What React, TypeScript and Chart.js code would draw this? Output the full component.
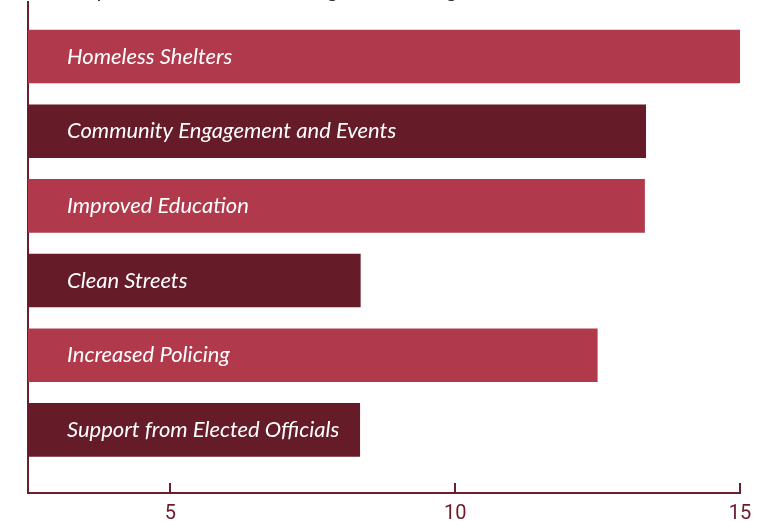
import React, { useEffect, useRef } from "react";
import { Chart, registerables } from "chart.js";

Chart.register(...registerables);

const CATEGORIES = [
  "Homeless Shelters",
  "Community Engagement and Events",
  "Improved Education",
  "Clean Streets",
  "Increased Policing",
  "Support from Elected Officials",
];
const VALUES = [15, 13.35, 13.33, 8.34, 12.5, 8.33];
const BAR_COLORS = ["#b03a4b", "#661b29", "#b03a4b", "#661b29", "#b03a4b", "#661b29"];
const X_TICKS = [5, 10, 15];
const X_MIN = 2.5;
const X_MAX = 15;
const CAPTION = "Proposed solutions to tackling urban change.";

const AXIS_COLOR = "#6b1f2e";
const LABEL_FONT = 'italic 22px Lato, "Open Sans", sans-serif';

const overlayPlugin = {
  id: "overlay",
  afterDatasetsDraw(chart: any) {
    const { ctx, chartArea } = chart;
    const meta = chart.getDatasetMeta(0);
    ctx.save();
    ctx.font = LABEL_FONT;
    ctx.fillStyle = "#ffffff";
    ctx.textAlign = "left";
    ctx.textBaseline = "middle";
    meta.data.forEach((bar: any, i: number) => {
      ctx.fillText(CATEGORIES[i], chartArea.left + 39, bar.y);
    });
    ctx.fillStyle = "#333333";
    ctx.textBaseline = "alphabetic";
    ctx.fillText(CAPTION, chartArea.left + 39, chartArea.top - 5);
    const xs = chart.scales.x;
    ctx.strokeStyle = AXIS_COLOR;
    ctx.lineWidth = 2;
    X_TICKS.forEach((v) => {
      const px = Math.round(xs.getPixelForValue(v));
      ctx.beginPath();
      ctx.moveTo(px, chartArea.bottom);
      ctx.lineTo(px, chartArea.bottom - 10);
      ctx.stroke();
    });
    ctx.restore();
  },
};

export default function App() {
  const ref = useRef<HTMLCanvasElement>(null);
  useEffect(() => {
    if (!ref.current) return;
    const chart = new Chart(ref.current, {
      type: "bar",
      data: {
        datasets: [
          {
            data: VALUES.map((v, i) => ({ x: v, y: i })),
            backgroundColor: BAR_COLORS,
            borderWidth: 0,
            categoryPercentage: 1,
            barPercentage: 0.718,
          },
        ],
      },
      options: {
        indexAxis: "y",
        animation: false,
        responsive: false,
        maintainAspectRatio: false,
        layout: { padding: { top: 2, left: 28, right: 34, bottom: -14 } },
        plugins: { legend: { display: false }, tooltip: { enabled: false }, title: { display: false } },
        scales: {
          x: {
            type: "linear",
            min: X_MIN,
            max: X_MAX,
            offset: false,
            afterBuildTicks: (scale: any) => {
              scale.ticks = X_TICKS.map((v) => ({ value: v }));
            },
            grid: { display: false, drawTicks: false, offset: false },
            border: { display: true, color: AXIS_COLOR, width: 2 },
            ticks: {
              color: "#6b1a2a",
              padding: 9,
              font: { family: '"Liberation Sans Narrow", Roboto, sans-serif', size: 20 },
            },
          },
          y: {
            type: "linear",
            reverse: true,
            min: -0.73,
            max: 5.845,
            offset: false,
            afterBuildTicks: (scale: any) => {
              scale.ticks = CATEGORIES.map((_, i) => ({ value: i }));
            },
            grid: { display: false, drawTicks: false, offset: false },
            border: { display: true, color: AXIS_COLOR, width: 2 },
            ticks: { display: false },
          },
        },
      },
      plugins: [overlayPlugin],
    });
    return () => chart.destroy();
  }, []);
  return (
    <div style={{ position: "fixed", left: 0, top: 0, width: 774, height: 521, background: "#fff" }}>
      <canvas ref={ref} width={774} height={521} style={{ display: "block" }} />
    </div>
  );
}
